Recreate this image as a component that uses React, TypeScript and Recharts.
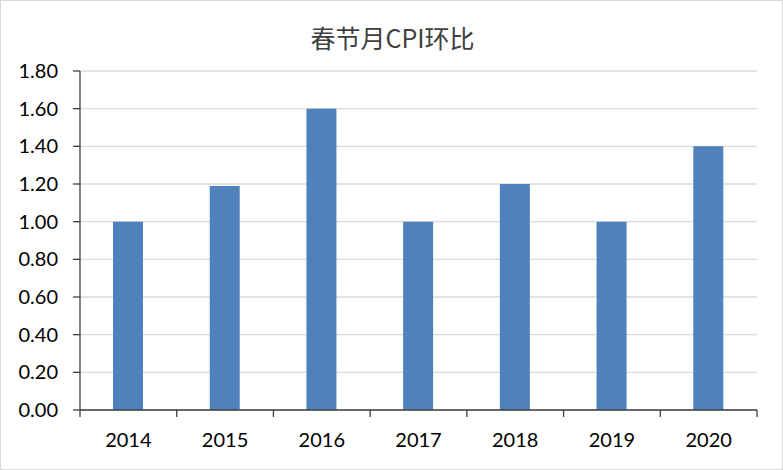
import { BarChart, Bar, XAxis, YAxis, CartesianGrid } from "recharts";

const years = ["2014", "2015", "2016", "2017", "2018", "2019", "2020"];
const cpiMoM = [1.0, 1.19, 1.6, 1.0, 1.2, 1.0, 1.4];
const yTicks = [0, 0.2, 0.4, 0.6, 0.8, 1.0, 1.2, 1.4, 1.6, 1.8];

const data = years.map((y, i) => ({ year: y, value: cpiMoM[i] }));

const W = 783;
const H = 470;
const PLOT_LEFT = 80;
const PLOT_RIGHT = 757;
const band = (PLOT_RIGHT - PLOT_LEFT) / years.length;
const numFont = "Lato, 'Noto Sans', sans-serif";

// tick mark on the left edge of each category, label at its centre
const YearTick = (props: any) => {
  const { x, y, payload, index } = props;
  const left = x - band / 2;
  return (
    <g>
      <line x1={left} y1={y - 8} x2={left} y2={y - 1} stroke="#404040" strokeWidth={1.3} />
      {index === years.length - 1 && (
        <line x1={left + band} y1={y - 8} x2={left + band} y2={y - 1} stroke="#404040" strokeWidth={1.3} />
      )}
      <text x={x} y={y + 29} textAnchor="middle" fill="#000" fontSize={20} fontFamily={numFont}>
        {payload.value}
      </text>
    </g>
  );
};

export default function App() {
  return (
    <div
      style={{
        position: "absolute",
        left: 0,
        top: 0,
        width: W,
        height: H,
        background: "#fff",
        boxSizing: "border-box",
        border: "1px solid #d9d9d9",
      }}
    >
      <div
        style={{
          position: "absolute",
          left: 0,
          top: 18,
          width: W,
          textAlign: "center",
          fontFamily: "'Noto Sans CJK SC', sans-serif",
          fontSize: 25,
          lineHeight: "36px",
          color: "#404040",
        }}
      >
        春节月CPI环比
      </div>
      <div style={{ position: "absolute", left: -1, top: -1 }}>
        <BarChart
          width={W}
          height={H}
          data={data}
          margin={{ top: 71, right: W - PLOT_RIGHT, left: 0, bottom: 0 }}
          barSize={30}
        >
          <CartesianGrid vertical={false} stroke="#d9d9d9" strokeWidth={1.3} />
          <XAxis
            dataKey="year"
            height={60}
            tickLine={false}
            axisLine={{ stroke: "#404040", strokeWidth: 1.3 }}
            tick={<YearTick />}
            interval={0}
          />
          <YAxis
            width={PLOT_LEFT}
            domain={[0, 1.8]}
            ticks={yTicks}
            tickFormatter={(v: number) => v.toFixed(2)}
            tickSize={7}
            tickMargin={15}
            tickLine={{ stroke: "#404040", strokeWidth: 1.3 }}
            axisLine={{ stroke: "#404040", strokeWidth: 1.3 }}
            tick={{ fill: "#000", fontSize: 20, fontFamily: numFont }}
          />
          <Bar dataKey="value" fill="#4f81bd" isAnimationActive={false} />
        </BarChart>
      </div>
    </div>
  );
}
